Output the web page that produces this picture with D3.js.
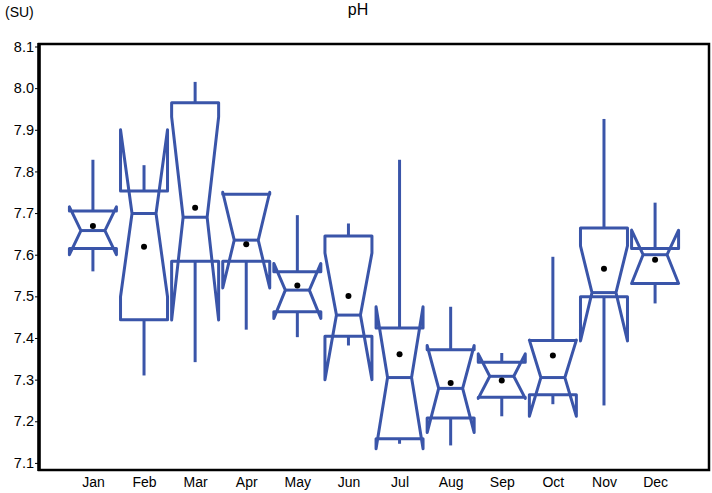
<!DOCTYPE html>
<html>
<head>
<meta charset="utf-8">
<script src="https://cdn.jsdelivr.net/npm/d3@7"></script>
<style>
  html, body { margin: 0; padding: 0; background: #fff; }
  svg { display: block; font-family: "Liberation Sans", Arial, sans-serif; }
</style>
</head>
<body>
<svg id="chart" width="712" height="493"></svg>
<script>
const months      = ["Jan","Feb","Mar","Apr","May","Jun","Jul","Aug","Sep","Oct","Nov","Dec"];
const whiskerLow  = [7.56, 7.31, 7.342, 7.42, 7.402, 7.382, 7.146, 7.142, 7.212, 7.241, 7.238, 7.483];
const q1          = [7.615, 7.444, 7.584, 7.584, 7.463, 7.404, 7.158, 7.208, 7.258, 7.264, 7.499, 7.531];
const notchLow    = [7.60, 7.499, 7.443, 7.52, 7.447, 7.30, 7.134, 7.173, 7.255, 7.212, 7.393, 7.531];
const median      = [7.658, 7.699, 7.69, 7.635, 7.515, 7.455, 7.305, 7.279, 7.308, 7.305, 7.509, 7.60];
const notchHigh   = [7.715, 7.90, 7.931, 7.75, 7.579, 7.604, 7.475, 7.382, 7.362, 7.395, 7.621, 7.659];
const q3          = [7.705, 7.753, 7.965, 7.745, 7.559, 7.645, 7.424, 7.372, 7.342, 7.394, 7.664, 7.615];
const whiskerHigh = [7.828, 7.815, 8.015, 7.745, 7.695, 7.675, 7.828, 7.475, 7.364, 7.595, 7.926, 7.725];
const means       = [7.669, 7.619, 7.713, 7.625, 7.526, 7.501, 7.361, 7.292, 7.298, 7.358, 7.566, 7.588];
const yTicks      = [7.1, 7.2, 7.3, 7.4, 7.5, 7.6, 7.7, 7.8, 7.9, 8.0, 8.1];

const svg = d3.select("#chart");
const L = 39, R = 709, T = 44, B = 470;
const blue = "#3a55a9";

const x = d3.scalePoint().domain(months).range([L, R]).padding(1.055);
const y = d3.scaleLinear().domain([7.083, 8.106]).range([B, T]);

const w = 23.5, wn = 12;

const g = svg.append("g");

months.forEach((m, i) => {
  const cx = x(m);
  // whiskers
  g.append("line").attr("x1", cx).attr("x2", cx)
    .attr("y1", y(q3[i])).attr("y2", y(whiskerHigh[i]))
    .attr("stroke", blue).attr("stroke-width", 3);
  g.append("line").attr("x1", cx).attr("x2", cx)
    .attr("y1", y(q1[i])).attr("y2", y(whiskerLow[i]))
    .attr("stroke", blue).attr("stroke-width", 3);
  // notched box
  const pts = [
    [cx - w, y(q1[i])], [cx - w, y(notchLow[i])], [cx - wn, y(median[i])],
    [cx - w, y(notchHigh[i])], [cx - w, y(q3[i])], [cx + w, y(q3[i])],
    [cx + w, y(notchHigh[i])], [cx + wn, y(median[i])], [cx + w, y(notchLow[i])],
    [cx + w, y(q1[i])]
  ];
  g.append("path").attr("d", d3.line()(pts) + "Z")
    .attr("fill", "none").attr("stroke", blue).attr("stroke-width", 3)
    .attr("stroke-linejoin", "round").attr("stroke-linecap", "round");
  // median line
  g.append("line").attr("x1", cx - wn).attr("x2", cx + wn)
    .attr("y1", y(median[i])).attr("y2", y(median[i]))
    .attr("stroke", blue).attr("stroke-width", 3);
  // mean
  g.append("circle").attr("cx", cx).attr("cy", y(means[i])).attr("r", 3).attr("fill", "#000");
});

// frame
svg.append("rect").attr("x", L).attr("y", T).attr("width", R - L).attr("height", B - T)
  .attr("fill", "none").attr("stroke", "#000").attr("stroke-width", 2.5);
svg.append("line").attr("x1", L).attr("x2", L).attr("y1", T - 1).attr("y2", B + 1)
  .attr("stroke", "#000").attr("stroke-width", 3.5);

// y axis
const yAxis = d3.axisLeft(y).tickValues(yTicks).tickFormat(d3.format(".1f")).tickSize(3).tickPadding(1);
const ya = svg.append("g").attr("transform", `translate(${L - 1},0)`).call(yAxis);
ya.select(".domain").remove();
ya.selectAll("text").attr("font-size", 14.5).attr("fill", "#000").style("font-family", "'Liberation Sans', Arial, sans-serif");
ya.selectAll("line").attr("stroke", "#000");

// x axis
const xAxis = d3.axisBottom(x).tickSize(0).tickPadding(7);
const xa = svg.append("g").attr("transform", `translate(0,${B})`).call(xAxis);
xa.select(".domain").remove();
xa.selectAll("text").attr("font-size", 14).attr("fill", "#000").style("font-family", "'Liberation Sans', Arial, sans-serif");

// titles
svg.append("text").attr("x", 358).attr("y", 15).attr("text-anchor", "middle")
  .attr("font-size", 16).text("pH");
svg.append("text").attr("x", 5).attr("y", 17).attr("font-size", 14).text("(SU)");
</script>
</body>
</html>
